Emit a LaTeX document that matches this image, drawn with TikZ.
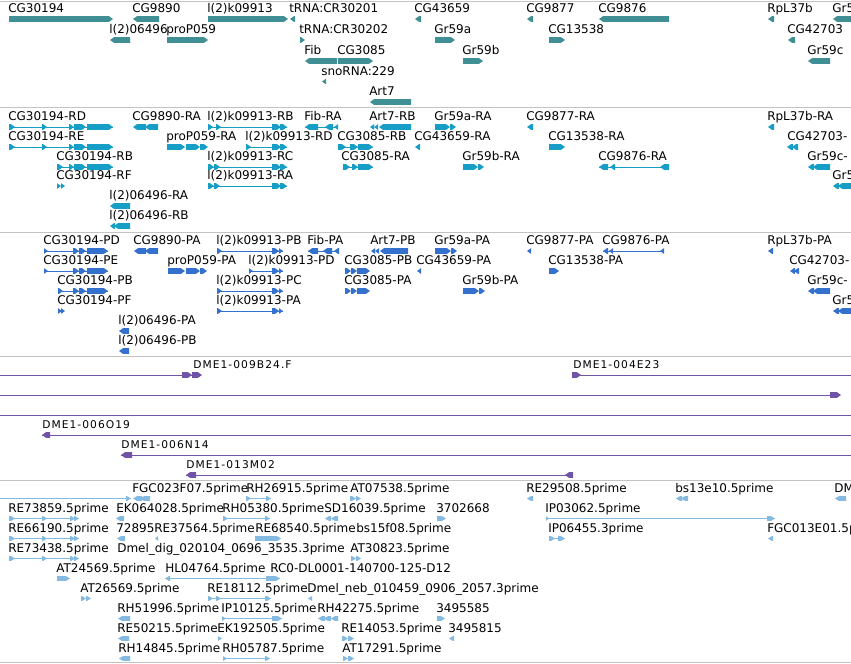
\documentclass[tikz,border=0pt]{standalone}
\usepackage{fontspec}
\setmainfont{DejaVu Sans}
\newfontfamily\dmefont[LetterSpace=10]{DejaVu Sans}
\definecolor{cTeal}{RGB}{64,143,149}
\definecolor{cCyan}{RGB}{22,158,198}
\definecolor{cBlue}{RGB}{52,112,206}
\definecolor{cPurp}{RGB}{112,84,166}
\definecolor{cEst}{RGB}{132,186,226}
\definecolor{cSep}{RGB}{195,195,195}
\newcount\labcnt
\def\bh{2.8}
\newcommand\Fbar[3]{\fill ({#1},{#3-\bh}) -- ({max(#1,#2-4)},{#3-\bh}) -- ({#2},{#3}) -- ({max(#1,#2-4)},{#3+\bh}) -- ({#1},{#3+\bh}) -- cycle;}
\newcommand\Rbar[3]{\fill ({#1},{#3}) -- ({min(#2,#1+4)},{#3-\bh}) -- ({#2},{#3-\bh}) -- ({#2},{#3+\bh}) -- ({min(#2,#1+4)},{#3+\bh}) -- cycle;}
\newcommand\Iline[3]{\draw[line width=0.75pt] ({#1},{#3}) -- ({#2},{#3});}
\newcommand\Lab[3]{\node[lbl] (L\the\labcnt) at ({#1-1},{#2-6.5}) {#3};\global\advance\labcnt by 1\relax}
\newcommand\Dlab[3]{\node[dlbl] (L\the\labcnt) at ({#1},{#2-7}) {#3};\global\advance\labcnt by 1\relax}
\tikzset{
  lbl/.style={anchor=base west, inner sep=0pt, text=black, font=\fontsize{9}{9}\selectfont},
  dlbl/.style={anchor=base west, inner sep=0pt, text=black, font=\dmefont\fontsize{8}{8}\selectfont},
  sepline/.style={draw=cSep, line width=1pt}
}
\begin{document}
\begin{tikzpicture}[x=0.75pt,y=-0.75pt]
\useasboundingbox (0,0) rectangle (851,664);
\clip (0,0) rectangle (851,664);
\fill[white] (0,0) rectangle (851,664);
% separators
\foreach \yy in {1.5,107.5,232.5,356.5,480.5,662.5}{\draw[sepline] (0,\yy) -- (851,\yy);}
% ===== genes =====
\begin{scope}[color=cTeal]
\Fbar{9}{113}{19} \Lab{9}{19}{CG30194}
\Rbar{133}{159}{19} \Lab{133}{19}{CG9890}
\Fbar{208}{288}{19} \Lab{208}{19}{l(2)k09913}
\Rbar{290}{295}{19} \Lab{290}{19}{tRNA:CR30201}
\Rbar{415}{421}{19} \Lab{415}{19}{CG43659}
\Rbar{527}{533}{19} \Lab{527}{19}{CG9877}
\Rbar{599}{669}{19} \Lab{599}{19}{CG9876}
\Rbar{768}{774}{19} \Lab{768}{19}{RpL37b}
\Rbar{833}{860}{19} \Lab{833}{19}{Gr5}
\Rbar{110}{130}{40} \Lab{110}{40}{l(2)06496}
\Fbar{167}{208}{40} \Lab{167}{40}{proP059}
\Fbar{300}{305}{40} \Lab{300}{40}{tRNA:CR30202}
\Fbar{435}{455}{40} \Lab{435}{40}{Gr59a}
\Fbar{549}{565}{40} \Lab{549}{40}{CG13538}
\Rbar{788}{795}{40} \Lab{788}{40}{CG42703}
\Rbar{305}{337}{61} \Lab{305}{61}{Fib}
\Fbar{338}{373}{61} \Lab{338}{61}{CG3085}
\Fbar{463}{483}{61} \Lab{463}{61}{Gr59b}
\Rbar{808}{830}{61} \Lab{808}{61}{Gr59c}
\Rbar{322}{326}{81.5} \Lab{322}{81.5}{snoRNA:229}
\Rbar{370}{411}{102} \Lab{370}{102}{Art7}
\end{scope}
% ===== transcripts =====
\begin{scope}[color=cCyan]
\Iline{9}{113}{127} \Fbar{9}{15}{127} \Fbar{42}{47}{127} \Fbar{69}{74}{127} \Fbar{74}{86}{127} \Fbar{87}{113}{127} \Lab{9}{127}{CG30194-RD}
\Rbar{133}{146}{127} \Rbar{145}{158}{127} \Lab{133}{127}{CG9890-RA}
\Iline{208}{287}{127} \Fbar{208}{213}{127} \Fbar{216}{221}{127} \Fbar{272}{281}{127} \Fbar{280}{287}{127} \Lab{208}{127}{l(2)k09913-RB}
\Iline{305}{338}{127} \Rbar{305}{318}{127} \Rbar{325}{333}{127} \Rbar{334}{338}{127} \Lab{305}{127}{Fib-RA}
\Rbar{370}{374}{127} \Rbar{374}{378}{127} \Rbar{379}{411}{127} \Lab{370}{127}{Art7-RB}
\Fbar{435}{450}{127} \Fbar{450}{456}{127} \Lab{435}{127}{Gr59a-RA}
\Rbar{527}{533}{127} \Lab{527}{127}{CG9877-RA}
\Rbar{768}{774}{127} \Lab{768}{127}{RpL37b-RA}
\Iline{9}{113}{147} \Fbar{9}{15}{147} \Fbar{42}{47}{147} \Fbar{69}{74}{147} \Fbar{74}{86}{147} \Fbar{87}{113}{147} \Lab{9}{147}{CG30194-RE}
\Fbar{167}{185}{147} \Fbar{186}{200}{147} \Fbar{200}{208}{147} \Lab{167}{147}{proP059-RA}
\Iline{246}{287}{147} \Fbar{246}{251}{147} \Fbar{272}{281}{147} \Fbar{280}{287}{147} \Lab{246}{147}{l(2)k09913-RD}
\Iline{338}{373}{147} \Fbar{338}{346}{147} \Fbar{350}{358}{147} \Fbar{358}{373}{147} \Lab{338}{147}{CG3085-RB}
\Rbar{415}{420}{147} \Lab{415}{147}{CG43659-RA}
\Fbar{549}{565}{147} \Lab{549}{147}{CG13538-RA}
\Rbar{787}{793}{147} \Rbar{792}{798}{147} \Lab{788}{147}{CG42703-}
\Iline{57}{113}{167} \Fbar{57}{63}{167} \Fbar{69}{74}{167} \Fbar{74}{86}{167} \Fbar{87}{113}{167} \Lab{57}{167}{CG30194-RB}
\Iline{208}{287}{167} \Fbar{208}{214}{167} \Fbar{214}{220}{167} \Fbar{272}{281}{167} \Fbar{280}{287}{167} \Lab{208}{167}{l(2)k09913-RC}
\Iline{343}{373}{167} \Fbar{343}{350}{167} \Fbar{352}{358}{167} \Fbar{358}{373}{167} \Lab{342}{167}{CG3085-RA}
\Fbar{463}{478}{167} \Fbar{478}{484}{167} \Lab{463}{167}{Gr59b-RA}
\Iline{599}{669}{167} \Rbar{599}{608}{167} \Rbar{610}{615}{167} \Rbar{660}{669}{167} \Lab{599}{167}{CG9876-RA}
\Rbar{808}{814}{167} \Rbar{813}{830}{167} \Lab{808}{167}{Gr59c-}
\Fbar{57}{61}{186} \Fbar{61}{65}{186} \Lab{57}{186}{CG30194-RF}
\Iline{208}{287}{186} \Fbar{208}{214}{186} \Fbar{214}{220}{186} \Fbar{272}{281}{186} \Fbar{280}{287}{186} \Lab{208}{186}{l(2)k09913-RA}
\Rbar{833}{839}{186} \Rbar{838}{860}{186} \Lab{833}{186}{Gr5}
\Rbar{110}{130}{206} \Lab{110}{206}{l(2)06496-RA}
\Rbar{110}{115}{226} \Rbar{114}{130}{226} \Lab{110}{226}{l(2)06496-RB}
\end{scope}
% ===== proteins =====
\begin{scope}[color=cBlue]
\Iline{44}{108}{251} \Fbar{44}{48}{251} \Fbar{73}{79}{251} \Fbar{79}{86}{251} \Fbar{87}{108}{251} \Lab{44}{251}{CG30194-PD}
\Rbar{134}{146}{251} \Rbar{145}{158}{251} \Lab{134}{251}{CG9890-PA}
\Iline{217}{283}{251} \Fbar{217}{222}{251} \Fbar{272}{279}{251} \Fbar{279}{283}{251} \Lab{217}{251}{l(2)k09913-PB}
\Iline{308}{339}{251} \Rbar{308}{318}{251} \Rbar{323}{332}{251} \Rbar{334}{339}{251} \Lab{308}{251}{Fib-PA}
\Rbar{371}{375}{251} \Rbar{375}{379}{251} \Rbar{380}{408}{251} \Lab{371}{251}{Art7-PB}
\Fbar{435}{451}{251} \Fbar{451}{457}{251} \Lab{435}{251}{Gr59a-PA}
\Rbar{527}{531}{251} \Lab{527}{251}{CG9877-PA}
\Iline{603}{664}{251} \Rbar{603}{608}{251} \Rbar{609}{613}{251} \Rbar{660}{664}{251} \Lab{603}{251}{CG9876-PA}
\Rbar{768}{773}{251} \Lab{768}{251}{RpL37b-PA}
\Iline{44}{108}{271} \Fbar{44}{48}{271} \Fbar{73}{79}{271} \Fbar{79}{86}{271} \Fbar{87}{108}{271} \Lab{44}{271}{CG30194-PE}
\Fbar{168}{185}{271} \Fbar{186}{200}{271} \Fbar{200}{207}{271} \Lab{168}{271}{proP059-PA}
\Iline{249}{283}{271} \Fbar{249}{253}{271} \Fbar{272}{279}{271} \Fbar{279}{283}{271} \Lab{249}{271}{l(2)k09913-PD}
\Fbar{345}{351}{271} \Fbar{351}{357}{271} \Fbar{357}{370}{271} \Lab{345}{271}{CG3085-PB}
\Rbar{417}{421}{271} \Lab{417}{271}{CG43659-PA}
\Fbar{549}{559}{271} \Lab{549}{271}{CG13538-PA}
\Rbar{790}{795}{271} \Rbar{794}{799}{271} \Lab{790}{271}{CG42703-}
\Iline{58}{108}{291} \Fbar{58}{63}{291} \Fbar{73}{79}{291} \Fbar{79}{86}{291} \Fbar{87}{108}{291} \Lab{58}{291}{CG30194-PB}
\Iline{217}{283}{291} \Fbar{217}{222}{291} \Fbar{272}{279}{291} \Fbar{279}{283}{291} \Lab{217}{291}{l(2)k09913-PC}
\Fbar{345}{351}{291} \Fbar{351}{357}{291} \Fbar{357}{370}{291} \Lab{345}{291}{CG3085-PA}
\Fbar{463}{479}{291} \Fbar{479}{485}{291} \Lab{463}{291}{Gr59b-PA}
\Rbar{808}{814}{291} \Rbar{813}{830}{291} \Lab{808}{291}{Gr59c-}
\Fbar{58}{62}{311} \Fbar{61}{65}{311} \Lab{58}{311}{CG30194-PF}
\Iline{217}{283}{311} \Fbar{217}{222}{311} \Fbar{272}{279}{311} \Fbar{279}{283}{311} \Lab{217}{311}{l(2)k09913-PA}
\Rbar{833}{839}{311} \Rbar{838}{860}{311} \Lab{833}{311}{Gr5}
\Rbar{119}{129}{331} \Lab{119}{331}{l(2)06496-PA}
\Rbar{119}{129}{351} \Lab{119}{351}{l(2)06496-PB}
\end{scope}
% ===== clones =====
\begin{scope}[color=cPurp]
\Iline{-5}{192}{375} \Fbar{182}{192}{375} \Fbar{192}{202}{375} \Dlab{193}{375}{DME1-009B24.F}
\Iline{572}{856}{375} \Fbar{572}{581}{375} \Dlab{573}{375}{DME1-004E23}
\Iline{-5}{835}{395} \Fbar{830}{841}{395}
\Iline{-5}{856}{415}
\Iline{42}{856}{435} \Rbar{42}{50}{435} \Dlab{42}{435}{DME1-006O19}
\Iline{121}{856}{455} \Rbar{121}{132}{455} \Dlab{121}{455}{DME1-006N14}
\Iline{186}{573}{475} \Rbar{186}{196}{475} \Rbar{565}{573}{475} \Dlab{186}{475}{DME1-013M02}
\end{scope}
% ===== ESTs =====
\begin{scope}[color=cEst]
\def\bh{2.4}
\Iline{-5}{131}{498.5} \Fbar{126}{131}{498.5}
\Rbar{133}{142}{498.5} \Rbar{140}{150}{498.5} \Lab{133}{498.5}{FGC023F07.5prime}
\Iline{246}{271}{498.5} \Fbar{246}{251}{498.5} \Fbar{266}{271}{498.5} \Lab{247}{498.5}{RH26915.5prime}
\Fbar{350}{356}{498.5} \Fbar{356}{361}{498.5} \Lab{351}{498.5}{AT07538.5prime}
\Rbar{527}{533}{498.5} \Lab{527}{498.5}{RE29508.5prime}
\Rbar{676}{682}{498.5} \Rbar{681}{688}{498.5} \Lab{676}{498.5}{bs13e10.5prime}
\Rbar{835}{846}{498.5} \Lab{835}{498.5}{DM}
\Iline{9}{79}{518.5} \Fbar{9}{15}{518.5} \Fbar{42}{47}{518.5} \Fbar{70}{75}{518.5} \Fbar{74}{79}{518.5} \Lab{9}{518.5}{RE73859.5prime}
\Rbar{116}{124}{518.5} \Lab{117}{518.5}{EK064028.5prime}
\Iline{223}{270}{518.5} \Fbar{223}{228}{518.5} \Fbar{265}{270}{518.5} \Lab{223}{518.5}{RH05380.5prime}
\Rbar{325}{331}{518.5} \Rbar{331}{338}{518.5} \Lab{325}{518.5}{SD16039.5prime}
\Fbar{437}{446}{518.5} \Lab{437}{518.5}{3702668}
\Iline{546}{775}{518.5} \Fbar{546}{549}{518.5} \Fbar{767}{775}{518.5} \Lab{546}{518.5}{IP03062.5prime}
\Iline{9}{79}{538.5} \Fbar{9}{15}{538.5} \Fbar{42}{47}{538.5} \Fbar{70}{75}{538.5} \Fbar{74}{79}{538.5} \Lab{9}{538.5}{RE66190.5prime}
\Rbar{117}{125}{538.5} \Lab{117}{538.5}{72895}
\Rbar{155}{158}{538.5} \Lab{155}{538.5}{RE37564.5prime}
\Fbar{255}{281}{538.5} \Lab{256}{538.5}{RE68540.5prime}
\Lab{357}{538.5}{bs15f08.5prime}
\Iline{549}{565}{538.5} \Fbar{549}{555}{538.5} \Fbar{558}{565}{538.5} \Lab{549}{538.5}{IP06455.3prime}
\Rbar{768}{773}{538.5} \Lab{768}{538.5}{FGC013E01.5p}
\Iline{9}{79}{558.5} \Fbar{9}{15}{558.5} \Fbar{42}{47}{558.5} \Fbar{70}{75}{558.5} \Fbar{74}{79}{558.5} \Lab{9}{558.5}{RE73438.5prime}
\Lab{118}{558.5}{Dmel\_dig\_020104\_0696\_3535.3prime}
\Fbar{351}{356}{558.5} \Fbar{356}{361}{558.5} \Lab{351}{558.5}{AT30823.5prime}
\Fbar{57}{70}{578.5} \Lab{57}{578.5}{AT24569.5prime}
\Iline{165}{280}{578.5} \Rbar{165}{170}{578.5} \Fbar{266}{280}{578.5} \Lab{166}{578.5}{HL04764.5prime}
\Lab{271}{578.5}{RC0-DL0001-140700-125-D12}
\Fbar{81}{86}{598.5} \Fbar{86}{91}{598.5} \Lab{81}{598.5}{AT26569.5prime}
\Iline{208}{271}{598.5} \Fbar{208}{213}{598.5} \Fbar{216}{221}{598.5} \Fbar{265}{271}{598.5} \Lab{208}{598.5}{RE18112.5prime}
\Rbar{308}{312}{598.5} \Lab{308}{598.5}{Dmel\_neb\_010459\_0906\_2057.3prime}
\Rbar{118}{130}{618.5} \Lab{118}{618.5}{RH51996.5prime}
\Iline{222}{282}{618.5} \Fbar{222}{226}{618.5} \Fbar{272}{282}{618.5} \Lab{222}{618.5}{IP10125.5prime}
\Rbar{318}{325}{618.5} \Rbar{324}{331}{618.5} \Rbar{331}{338}{618.5} \Lab{318}{618.5}{RH42275.5prime}
\Fbar{437}{445}{618.5} \Lab{437}{618.5}{3495585}
\Rbar{118}{129}{638.5} \Lab{118}{638.5}{RE50215.5prime}
\Fbar{218}{222}{638.5} \Lab{218}{638.5}{EK192505.5prime}
\Fbar{342}{348}{638.5} \Fbar{348}{354}{638.5} \Lab{342}{638.5}{RE14053.5prime}
\Rbar{449}{454}{638.5} \Lab{449}{638.5}{3495815}
\Rbar{119}{130}{658.5} \Lab{119}{658.5}{RH14845.5prime}
\Iline{223}{270}{658.5} \Fbar{223}{227}{658.5} \Fbar{265}{270}{658.5} \Lab{223}{658.5}{RH05787.5prime}
\Fbar{343}{348}{658.5} \Fbar{348}{354}{658.5} \Lab{343}{658.5}{AT17291.5prime}
\end{scope}
\end{tikzpicture}
\end{document}
